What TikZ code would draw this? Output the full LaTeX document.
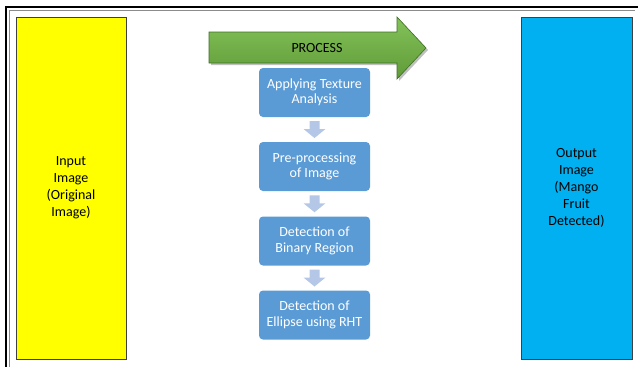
\documentclass[tikz,border=0pt]{standalone}
\usepackage{fontspec}
\setmainfont{Carlito}
\usetikzlibrary{calc}
\definecolor{inyellow}{HTML}{FFFF00}
\definecolor{outblue}{HTML}{00B0F0}
\definecolor{stepblue}{HTML}{5B9BD5}
\definecolor{downblue}{HTML}{B4C7E7}
\definecolor{greentop}{HTML}{84C25A}
\definecolor{greenbot}{HTML}{5F9B37}
\definecolor{greenline}{HTML}{3F6F25}
\begin{document}
\begin{tikzpicture}[x=1pt,y=-1pt,
  sidebox/.style={draw=black!75, line width=0.9pt, minimum width=110pt, minimum height=342pt,
    align=center, font=\fontsize{14}{17}\selectfont, text=black, inner sep=0pt},
  stepbox/.style={fill=stepblue, rounded corners=4pt, minimum width=111pt, minimum height=49pt,
    align=center, font=\fontsize{14}{15.5}\selectfont, text=white, inner sep=0pt},
  downarrow/.style={fill=downblue}]
\useasboundingbox (0,0) rectangle (638,367);
% frame
\draw[line width=2pt] (6,367) -- (6,7) -- (638,7);
\draw[black!45, line width=0.8pt] (9.3,367) -- (9.3,10) -- (635,10);
% side boxes
\node[sidebox, fill=inyellow] (in) at (71,188) {Input\\Image\\(Original\\Image)};
\node[sidebox, fill=outblue, minimum width=111pt] (out) at (576.5,188) {Output\\Image\\(Mango\\Fruit\\Detected)};
% process arrow
\fill[black, opacity=0.25] (211,34) -- (399,34) -- (399,19) -- (428,50) -- (399,81) -- (399,65) -- (211,65) -- cycle;
\shade[top color=greentop, bottom color=greenbot, draw=greenline, line width=0.6pt]
  (209,32) -- (397,32) -- (397,17) -- (426,48) -- (397,79) -- (397,63) -- (209,63) -- cycle;
\node[font=\fontsize{14}{16}\selectfont, text=black] (proc) at (317,48) {PROCESS};
% steps
\node[stepbox] (s1) at (314.5,92.5) {Applying Texture\\Analysis};
\node[stepbox] (s2) at (314.5,166.5) {Pre-processing\\of Image};
\node[stepbox] (s3) at (314.5,241) {Detection of\\Binary Region};
\node[stepbox] (s4) at (314.5,315) {Detection of\\Ellipse using RHT};
% down arrows
\foreach \a/\b in {s1/s2, s2/s3, s3/s4}{
  \coordinate (m\a) at ($(\a.south)!0.5!(\b.north)$);
  \fill[downarrow] ($(m\a)+(-5,-8.5)$) -- ($(m\a)+(5,-8.5)$) -- ($(m\a)+(5,-0.5)$) -- ($(m\a)+(11,-0.5)$)
    -- ($(m\a)+(0,8.5)$) -- ($(m\a)+(-11,-0.5)$) -- ($(m\a)+(-5,-0.5)$) -- cycle;
}
\end{tikzpicture}
\end{document}
